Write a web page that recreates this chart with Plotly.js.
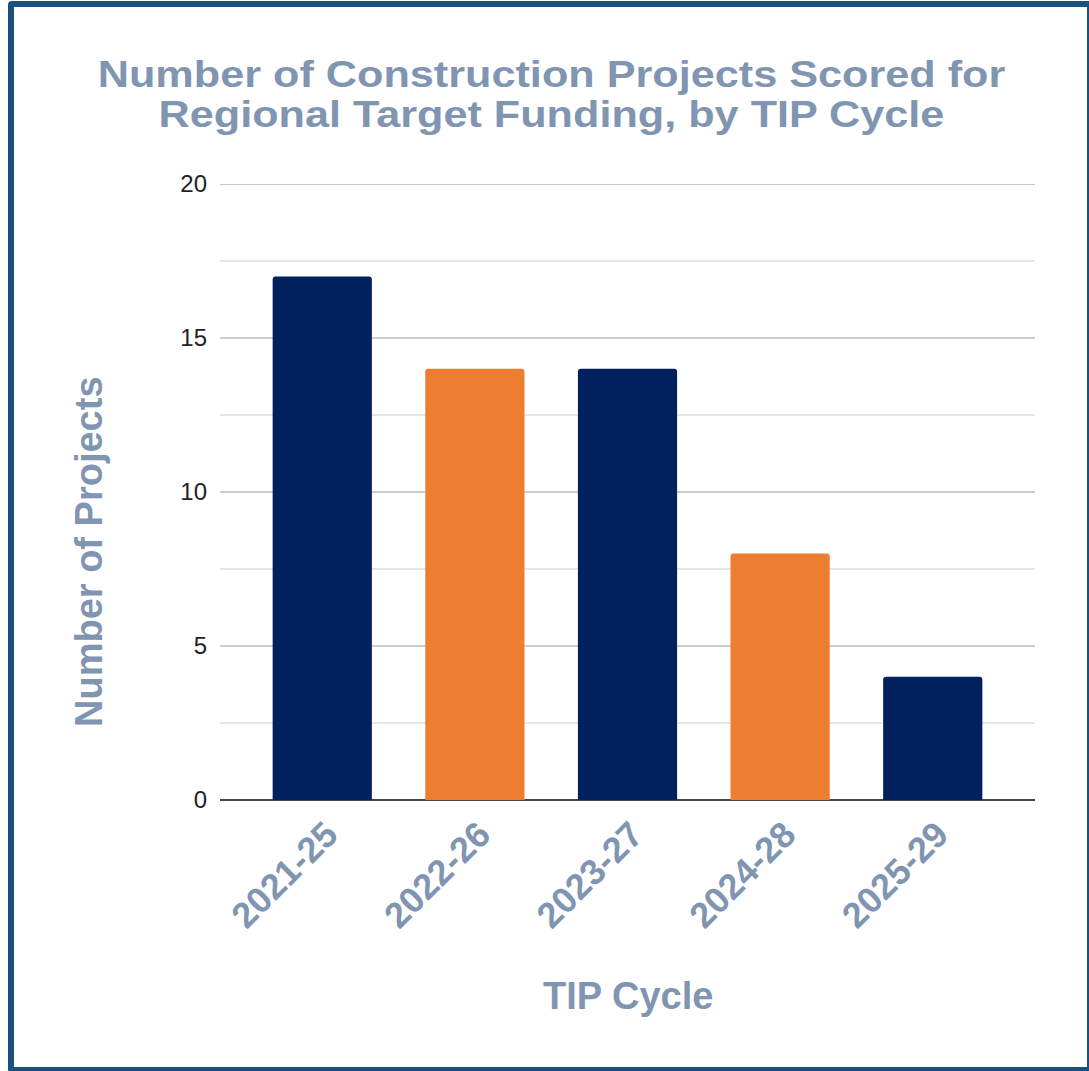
<!DOCTYPE html>
<html>
<head>
<meta charset="utf-8">
<script src="https://cdn.plot.ly/plotly-3.0.1.min.js"></script>
<style>
  html, body { margin: 0; padding: 0; background: #ffffff; }
  #wrap { position: relative; width: 1089px; height: 1071px; overflow: hidden; }
  #chart { position: absolute; left: 0; top: 0; width: 1089px; height: 1071px; }
  #frame { position: absolute; left: 8px; top: 1px; width: 1073px; height: 1060px;
           border: 6px solid #18507f; border-radius: 4px; pointer-events: none; }
</style>
</head>
<body>
<div id="wrap">
  <div id="chart"></div>
  <div id="frame"></div>
</div>
<script>
const cycles = ["2021-25", "2022-26", "2023-27", "2024-28", "2025-29"];
const projects = [17, 14, 14, 8, 4];
const barColors = ["#00215e", "#ed7d31", "#00215e", "#ed7d31", "#00215e"];
const yTicks = [0, 5, 10, 15, 20];
const titleLines = ["Number of Construction Projects Scored for", "Regional Target Funding, by TIP Cycle"];

const labelColor = "#7f95b1";
const fontFam = "Liberation Sans, Arial, sans-serif";

const trace = {
  type: "bar",
  x: cycles,
  y: projects,
  marker: { color: barColors, line: { width: 0 }, cornerradius: 3 },
  hoverinfo: "x+y"
};

const layout = {
  width: 1089,
  height: 1071,
  paper_bgcolor: "#ffffff",
  plot_bgcolor: "#ffffff",
  margin: { l: 220, r: 54, t: 184, b: 271, pad: 0 },
  showlegend: false,
  bargap: 0.35,
  font: { family: fontFam },
  xaxis: {
    type: "category",
    range: [-0.67, 4.67],
    tickangle: -45,
    tickfont: { family: fontFam, size: 36, color: labelColor, weight: "bold" },
    showgrid: false,
    showline: false,
    ticks: "",
    ticklen: 0,
    ticklabelshift: 5,
    ticklabelstandoff: 5,
    automargin: false,
    title: { text: "" }
  },
  yaxis: {
    range: [0, 20],
    tickvals: yTicks,
    ticktext: yTicks.map(String),
    tickfont: { family: fontFam, size: 24, color: "#222222" },
    ticks: "",
    showline: false,
    gridcolor: "#cccccc",
    gridwidth: 1.5,
    zeroline: true,
    zerolinecolor: "#444444",
    zerolinewidth: 2,
    minor: { dtick: 2.5, tick0: 0, showgrid: true, gridcolor: "#e6e6e6", gridwidth: 1.5 },
    automargin: false,
    ticklabelstandoff: 12,
    title: { text: "" }
  },
  shapes: [
    { type: "line", xref: "paper", yref: "y", x0: 0, x1: 1, y0: yTicks[yTicks.length - 1], y1: yTicks[yTicks.length - 1],
      line: { color: "#c8c8c8", width: 2 }, layer: "below" }
  ],
  annotations: [
    { text: "<b>" + titleLines[0] + "</b>", xref: "paper", yref: "paper",
      x: (551 - 220) / 815, y: 1 + (184 - 75) / 616, xanchor: "center", yanchor: "middle",
      showarrow: false, font: { family: fontFam, size: 37, color: labelColor } },
    { text: "<b>" + titleLines[1] + "</b>", xref: "paper", yref: "paper",
      x: (551 - 220) / 815, y: 1 + (184 - 114) / 616, xanchor: "center", yanchor: "middle",
      showarrow: false, font: { family: fontFam, size: 37, color: labelColor } },
    { text: "<b>Number of Projects</b>", xref: "paper", yref: "paper",
      x: (89 - 220) / 815, y: (800 - 552) / 616, xanchor: "center", yanchor: "middle",
      textangle: -90, showarrow: false, font: { family: fontFam, size: 38, color: labelColor } },
    { text: "<b>TIP Cycle</b>", xref: "paper", yref: "paper",
      x: 0.5, y: -(996 - 800) / 616, xanchor: "center", yanchor: "middle",
      showarrow: false, font: { family: fontFam, size: 38, color: labelColor } }
  ]
};

Plotly.newPlot("chart", [trace], layout, { displayModeBar: false, staticPlot: true }).then(function (gd) {
  // widen the two title lines horizontally to match the reference's wide title lettering
  const targets = { 0: 908, 1: 786 };
  const texts = gd.querySelectorAll("g.annotation text.annotation-text");
  texts.forEach(function (t, i) {
    if (!(i in targets)) return;
    const bb = t.getBBox();
    const s = targets[i] / bb.width;
    const cx = bb.x + bb.width / 2;
    const prev = t.getAttribute("transform") || "";
    t.setAttribute("transform", (prev + " translate(" + (cx * (1 - s)) + ",0) scale(" + s + ",1)").trim());
  });
});
</script>
</body>
</html>
